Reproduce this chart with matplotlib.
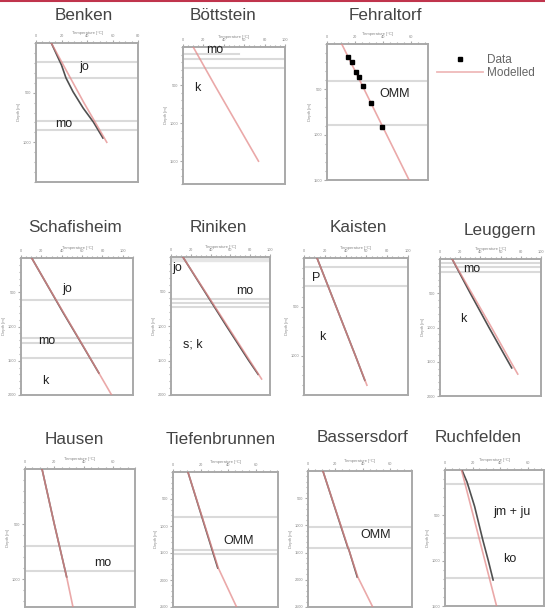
import matplotlib
matplotlib.use("Agg")
import matplotlib.pyplot as plt
from matplotlib.lines import Line2D
from matplotlib.ticker import MultipleLocator

plt.rcParams['font.family'] = ['Liberation Sans', 'DejaVu Sans']

# ---------------- data ----------------
# Benken
benken_mod_depth = [0, 200, 400, 600, 800, 1000]
benken_mod_temp = [12, 20.5, 29, 37.5, 46.5, 55.5]
benken_meas_depth = [0, 222, 352, 490, 656, 796, 957]
benken_meas_temp = [12, 20, 23.5, 29, 37, 45, 52.5]
benken_bounds = [190, 350, 785, 875]
benken_labels = [("jo", 38, 240), ("mo", 22, 815)]

# Böttstein
boett_mod_depth = [0, 500, 1000, 1500]
boett_mod_temp = [10, 31, 52.5, 74]
boett_meas_depth = []
boett_meas_temp = []
boett_bounds = [160, 280]
boett_labels = [("mo", 31, 45), ("k", 14, 540)]

# Fehraltorf
fehr_mod_depth = [0, 500, 1000, 1500]
fehr_mod_temp = [10.5, 26.5, 42.5, 58.5]
fehr_data_depth = [140, 202, 312, 360, 460, 654, 912]
fehr_data_temp = [15, 17.5, 21, 22.5, 25.5, 31.5, 39.5]
fehr_bounds = [408, 893]
fehr_labels = [("OMM", 48, 550)]

# Schafisheim
schaf_mod_depth = [0, 500, 1000, 1500, 2000]
schaf_mod_temp = [10.5, 30, 49.8, 69.5, 89]
schaf_meas_depth = [0, 400, 800, 1200, 1680]
schaf_meas_temp = [10.5, 26, 41.5, 57.5, 76.5]
schaf_bounds = [613, 1168, 1241, 1460]
schaf_labels = [("jo", 45, 452), ("mo", 25, 1212), ("k", 23.5, 1795)]

# Riniken
rin_mod_depth = [0, 500, 1000, 1500, 1768]
rin_mod_temp = [12, 34.5, 57, 79.5, 91.5]
rin_meas_depth = [0, 500, 1000, 1500, 1700]
rin_meas_temp = [12, 34, 56, 78.5, 88]
rin_bounds = [610, 670, 725]
rin_labels = [("jo", 6, 160), ("mo", 74, 490), ("s; k", 22, 1275)]

# Kaisten
kai_mod_depth = [0, 500, 1000, 1300]
kai_mod_temp = [12.5, 31, 49.5, 60.5]
kai_meas_depth = [0, 500, 1000, 1250]
kai_meas_temp = [12.5, 31, 49.5, 58.5]
kai_bounds = [92, 286]
kai_labels = [("P", 11.5, 205), ("k", 18, 807)]

# Leuggern
leu_mod_depth = [0, 500, 1000, 1500, 1680]
leu_mod_temp = [12, 31.5, 51, 70, 77]
leu_meas_depth = [0, 500, 1000, 1590]
leu_meas_temp = [12, 30, 48.5, 71]
leu_bounds = [58, 117, 190]
leu_labels = [("mo", 31, 150), ("k", 23, 880)]

# Hausen
hau_mod_depth = [0, 500, 978, 1250]
hau_mod_temp = [11.6, 20, 28.4, 32.7]
hau_meas_depth = [0, 500, 978]
hau_meas_temp = [11.6, 20, 28.4]
hau_bounds = [697, 924]
hau_labels = [("mo", 53, 851)]

# Tiefenbrunnen
tief_mod_depth = [0, 1778, 2500]
tief_mod_temp = [10.8, 32.8, 46]
tief_meas_depth = [0, 1778]
tief_meas_temp = [10.8, 32.4]
tief_bounds = [833, 1444, 1518]
tief_labels = [("OMM", 47.5, 1278)]

# Bassersdorf
bass_mod_depth = [0, 1949, 2500]
bass_mod_temp = [10.9, 36.4, 47.3]
bass_meas_depth = [0, 1400, 1450, 1949]
bass_meas_temp = [10.9, 29, 29.9, 36]
bass_bounds = [1030, 1415]
bass_labels = [("OMM", 49.5, 1176)]

# Ruchfelden
ruch_mod_depth = [0, 500, 1000, 1500]
ruch_mod_temp = [12, 20.5, 29, 37.5]
ruch_meas_depth = [0, 132, 400, 772, 1000, 1213]
ruch_meas_temp = [12.3, 16, 21.5, 27.5, 31.5, 35]
ruch_bounds = [154, 750, 1191]
ruch_labels = [("jm + ju", 48.4, 463), ("ko", 47, 980)]

# --------------- figure ---------------
W, H = 545, 608
fig = plt.figure(figsize=(W / 100, H / 100), dpi=100)

SPINE = '#a9a9a9'
BOUND = '#dadada'
MEAS = '#505050'
MOD = '#e48c8c'


def px_axes(l, r, t, b):
    return fig.add_axes([l / W, 1 - b / H, (r - l) / W, (b - t) / H])


def panel(box, title, title_x, title_y, xmax, xstep, ymax, ystep,
          mod_d, mod_t, meas_d, meas_t, bounds, labels, data=None):
    ax = px_axes(*box)
    ax.set_xlim(0, xmax)
    ax.set_ylim(ymax, 0)
    ax.xaxis.set_ticks_position('top')
    ax.xaxis.set_label_position('top')
    ax.set_xticks([v for v in range(0, int(xmax) + 1, xstep)])
    ax.set_yticks([v for v in range(ystep, int(ymax) + 1, ystep)])
    ax.xaxis.set_minor_locator(MultipleLocator(xstep / 4))
    ax.yaxis.set_minor_locator(MultipleLocator(ystep / 5))
    ax.tick_params(which='both', direction='out', colors=SPINE,
                   labelsize=2.8, labelcolor='#888888', width=0.8)
    ax.tick_params(which='major', length=2.5, pad=0.8)
    ax.tick_params(which='minor', length=1.5)
    ax.set_xlabel('Temperature [°C]', fontsize=3, color='#888888', labelpad=0.5)
    ax.set_ylabel('Depth [m]', fontsize=3, color='#888888', labelpad=1)
    for s in ax.spines.values():
        s.set_color(SPINE)
        s.set_linewidth(1.4)
    for b in bounds:
        ax.axhline(b, color=BOUND, lw=1.5, zorder=1)
    if len(meas_d):
        ax.plot(meas_t, meas_d, color=MEAS, lw=1.2, zorder=3)
    ax.plot(mod_t, mod_d, color=MOD, lw=1.2, alpha=0.75, zorder=4)
    if data is not None:
        ax.plot(data[1], data[0], 's', color='black', ms=2.3, zorder=5)
    for txt, tx, ty in labels:
        ax.text(tx, ty, txt, fontsize=9, color='#222222', ha='center',
                va='center', zorder=6)
    fig.text(title_x / W, 1 - title_y / H, title, fontsize=12.3,
             color='#444444', ha='center', va='center')
    return ax


panel((36, 138, 43, 182), 'Benken', 84, 16, 80, 20, 1400, 500,
      benken_mod_depth, benken_mod_temp, benken_meas_depth, benken_meas_temp,
      benken_bounds, benken_labels)

ax_b = panel((183, 285, 47, 184), 'Böttstein', 223, 16, 100, 20, 1800, 500,
             boett_mod_depth, boett_mod_temp, boett_meas_depth, boett_meas_temp,
             boett_bounds, boett_labels)
ax_b.axhline(95, xmin=0, xmax=0.55, color=BOUND, lw=1.5, zorder=1)

ax_f = panel((327, 428, 44, 180), 'Fehraltorf', 385, 16, 72, 20, 1500, 500,
             fehr_mod_depth, fehr_mod_temp, [], [],
             fehr_bounds, fehr_labels, data=(fehr_data_depth, fehr_data_temp))

panel((21, 133, 258, 395), 'Schafisheim', 75, 227, 110, 20, 2000, 500,
      schaf_mod_depth, schaf_mod_temp, schaf_meas_depth, schaf_meas_temp,
      schaf_bounds, schaf_labels)

ax_r = panel((171, 270, 257, 395), 'Riniken', 218, 227, 100, 20, 2000, 500,
             rin_mod_depth, rin_mod_temp, rin_meas_depth, rin_meas_temp,
             rin_bounds, rin_labels)
ax_r.axhspan(0, 60, color='#e6e6e6', zorder=0.5)

panel((304, 408, 258, 395), 'Kaisten', 358, 227, 100, 20, 1400, 500,
      kai_mod_depth, kai_mod_temp, kai_meas_depth, kai_meas_temp,
      kai_bounds, kai_labels)

panel((440, 541, 259, 396), 'Leuggern', 500, 230, 100, 20, 2000, 500,
      leu_mod_depth, leu_mod_temp, leu_meas_depth, leu_meas_temp,
      leu_bounds, leu_labels)

panel((25, 135, 469, 607), 'Hausen', 74, 440, 75, 20, 1250, 500,
      hau_mod_depth, hau_mod_temp, hau_meas_depth, hau_meas_temp,
      hau_bounds, hau_labels)

panel((173, 278, 472, 607), 'Tiefenbrunnen', 221, 440, 76, 20, 2500, 500,
      tief_mod_depth, tief_mod_temp, tief_meas_depth, tief_meas_temp,
      tief_bounds, tief_labels)

panel((308, 412, 471, 607), 'Bassersdorf', 362, 438, 76, 20, 2500, 500,
      bass_mod_depth, bass_mod_temp, bass_meas_depth, bass_meas_temp,
      bass_bounds, bass_labels)

panel((445, 544, 470, 606), 'Ruchfelden', 478, 438, 72, 20, 1500, 500,
      ruch_mod_depth, ruch_mod_temp, ruch_meas_depth, ruch_meas_temp,
      ruch_bounds, ruch_labels)

# legend
handles = [Line2D([], [], ls='none', marker='s', color='black', ms=2.5),
           Line2D([], [], color=MOD, lw=1.3, alpha=0.6)]
fig.legend(handles, ['Data', 'Modelled'], loc='upper left',
           bbox_to_anchor=(437 / W, 1 - 54 / H), frameon=False,
           fontsize=8.5, labelcolor='#666666', handlelength=3.9,
           handletextpad=0.3, labelspacing=0.1, borderaxespad=0,
           borderpad=0)

# thin red rule at the very top
fig.add_artist(Line2D([0, 1], [1 - 1 / H, 1 - 1 / H], color='#c0344c',
                      lw=1.5, transform=fig.transFigure))

fig.savefig('out.png', dpi=100)
